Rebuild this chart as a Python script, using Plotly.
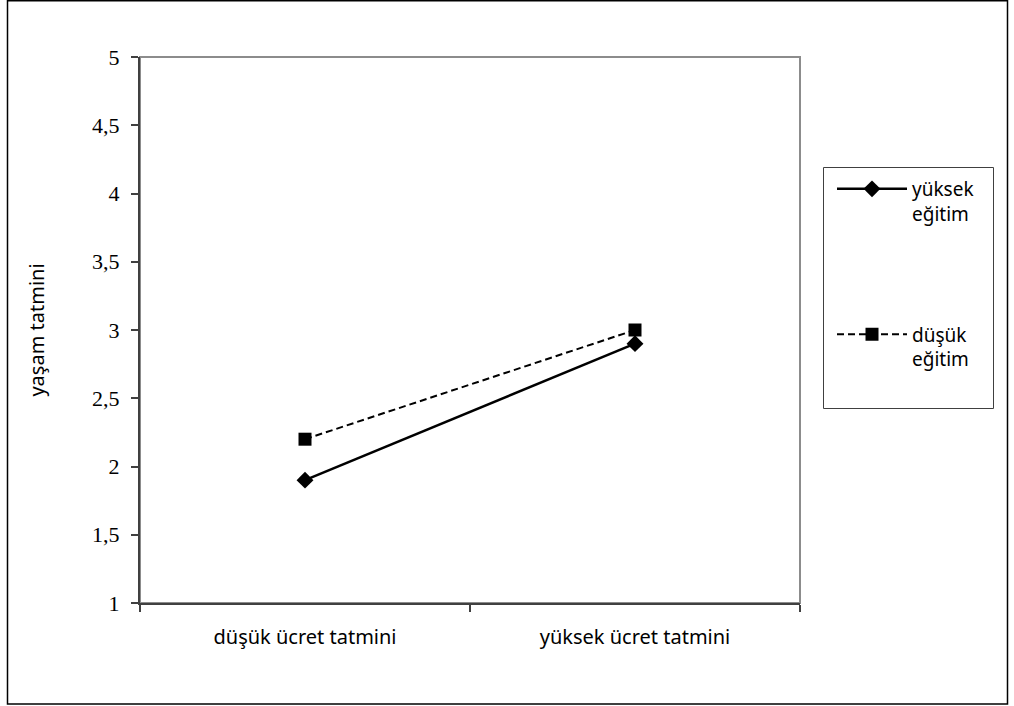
import plotly.graph_objects as go

categories = ["düşük ücret tatmini", "yüksek ücret tatmini"]
yuksek_egitim = [1.9, 2.9]
dusuk_egitim = [2.2, 3.0]
series_names = ["yüksek<br>eğitim", "düşük<br>eğitim"]
y_ticks = [1, 1.5, 2, 2.5, 3, 3.5, 4, 4.5, 5]

W, H = 1014, 706
L, R, T, B = 140, 800, 57, 603
pw, ph = R - L, B - T

def px(x):
    return (x - L) / pw

def py(y):
    return (B - y) / ph

fig = go.Figure()
fig.add_trace(go.Scatter(
    x=categories, y=yuksek_egitim, name=series_names[0], mode="lines+markers",
    line=dict(color="black", width=2.5),
    marker=dict(symbol="diamond", size=13, color="black"),
    legendgroup="a",
))
fig.add_trace(go.Scatter(
    x=categories, y=dusuk_egitim, name=series_names[1], mode="lines+markers",
    line=dict(color="black", width=2, dash="7px,4px"),
    marker=dict(symbol="square", size=13, color="black"),
    legendgroup="b",
))

shapes = [
    dict(type="rect", xref="paper", yref="paper", x0=0, x1=1, y0=0, y1=1,
         line=dict(color="#8c8c8c", width=2), layer="below"),
    dict(type="rect", xref="paper", yref="paper", x0=px(7.5), x1=px(1007.5),
         y0=py(704), y1=py(0.8), line=dict(color="black", width=1.5)),
    dict(type="rect", xref="paper", yref="paper", x0=px(823.5), x1=px(993.5),
         y0=py(408.5), y1=py(167.5), line=dict(color="#404040", width=1)),
]

fig.update_layout(
    width=W, height=H,
    margin=dict(l=L, r=W - R, t=T, b=H - B),
    paper_bgcolor="white", plot_bgcolor="white",
    separators=",.",
    showlegend=True,
    legend=dict(
        x=px(832), y=py(170), xanchor="left", yanchor="top",
        font=dict(family="Noto Sans", size=19, color="black"),
        tracegroupgap=93, valign="top", bgcolor="rgba(0,0,0,0)",
        itemwidth=70,
    ),
    shapes=shapes,
    xaxis=dict(
        type="category", tickson="boundaries", range=[-0.5, 1.5],
        showline=True, linecolor="#404040", linewidth=2,
        ticks="outside", ticklen=7, tickcolor="#404040", tickwidth=1.5,
        showgrid=False, zeroline=False,
        tickfont=dict(family="Noto Sans", size=20, color="black"),
        ticklabelstandoff=15,
    ),
    yaxis=dict(
        range=[1, 5], tickvals=y_ticks,
        showline=True, linecolor="#404040", linewidth=2,
        ticks="outside", ticklen=7, tickcolor="#404040", tickwidth=1.5,
        showgrid=False, zeroline=False,
        tickfont=dict(family="Liberation Serif", size=22, color="black"),
        ticklabelstandoff=7,
        title=dict(text="yaşam tatmini", standoff=42,
                   font=dict(family="Noto Sans", size=20, color="black")),
    ),
)

fig.write_html(
    "out.html",
    config={"displayModeBar": False},
    post_script="document.body.style.margin='0';document.body.style.overflow='hidden';",
)
